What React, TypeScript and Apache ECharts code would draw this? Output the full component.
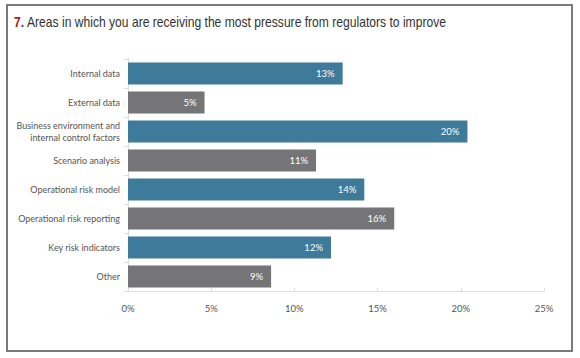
import React, { useEffect, useRef } from "react";
import * as echarts from "echarts";

const categories = [
  "Internal data",
  "External data",
  "Business environment and\ninternal control factors",
  "Scenario analysis",
  "Operational risk model",
  "Operational risk reporting",
  "Key risk indicators",
  "Other",
];
const values = [12.9, 4.6, 20.4, 11.3, 14.2, 16.0, 12.2, 8.6];
const barColors = ["#3e7a99", "#757578", "#3e7a99", "#757578", "#3e7a99", "#757578", "#3e7a99", "#757578"];
const xTicks = [0, 5, 10, 15, 20, 25];

export default function App() {
  const ref = useRef<HTMLDivElement>(null);
  useEffect(() => {
    const chart = echarts.init(ref.current!, null, { renderer: "svg" });
    chart.setOption({
      animation: false,
      backgroundColor: "#ffffff",
      graphic: [
        {
          type: "rect",
          shape: { x: 7, y: 5, width: 565, height: 346 },
          style: { fill: "none", stroke: "#7a7a7a", lineWidth: 2 },
          silent: true,
        },
        {
          type: "text",
          x: 14,
          y: 15,
          scaleX: 0.865,
          style: {
            text: "{n|7.} {t|Areas in which you are receiving the most pressure from regulators to improve}",
            rich: {
              n: { fill: "#a3191f", fontSize: 14, fontWeight: "bold", fontFamily: "Liberation Sans, Arial, sans-serif" },
              t: { fill: "#333333", fontSize: 14, fontFamily: "Liberation Sans, Arial, sans-serif" },
            },
          },
        },
      ],
      grid: { left: 128, right: 36, top: 59, bottom: 67, containLabel: false },
      xAxis: {
        type: "value",
        min: 0,
        max: 25,
        interval: 5,
        axisLine: { show: true, lineStyle: { color: "#dddddd" } },
        axisTick: { show: true, inside: true, length: 3, lineStyle: { color: "#dddddd" } },
        splitLine: { show: false },
        axisLabel: {
          formatter: (v: number) => (xTicks.includes(v) ? v + "%" : ""),
          color: "#555555",
          fontSize: 9.5,
          fontFamily: "Lato, sans-serif",
          margin: 12,
        },
      },
      yAxis: {
        type: "category",
        inverse: true,
        data: categories,
        axisLine: { show: true, lineStyle: { color: "#dddddd" } },
        axisTick: { show: true, length: 4, lineStyle: { color: "#dddddd" } },
        axisLabel: {
          color: "#555555",
          fontSize: 9,
          fontFamily: "Lato, sans-serif",
          margin: 8,
          lineHeight: 12,
          align: "right",
        },
      },
      series: [
        {
          type: "bar",
          data: values.map((v, i) => ({ value: v, itemStyle: { color: barColors[i] } })),
          barCategoryGap: "24%",
          label: {
            show: true,
            position: "insideRight",
            formatter: (p: any) => Math.round(p.value) + "%",
            color: "#ffffff",
            fontSize: 9.5,
            fontFamily: "Lato, sans-serif",
            distance: 8,
          },
        },
      ],
    });
    return () => chart.dispose();
  }, []);
  return (
    <div style={{ position: "fixed", left: 0, top: 0, width: 580, height: 358 }}>
      <div ref={ref} style={{ width: 580, height: 358 }} />
    </div>
  );
}
